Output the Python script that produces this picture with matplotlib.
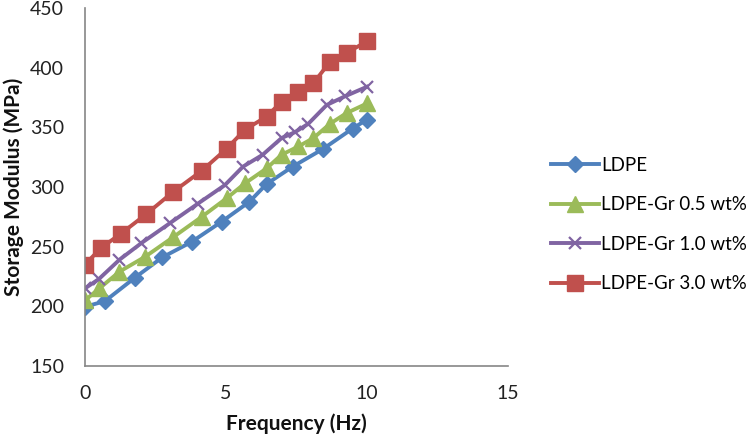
import matplotlib
matplotlib.use("Agg")
import matplotlib.pyplot as plt

plt.rcParams['font.family'] = ['Lato', 'DejaVu Sans']

series_names = ["LDPE", "LDPE-Gr 0.5 wt%", "LDPE-Gr 1.0 wt%", "LDPE-Gr 3.0 wt%"]

x_ldpe = [0.0, 0.71, 1.77, 2.74, 3.78, 4.85, 5.83, 6.44, 7.36, 8.45, 9.49, 10.0]
y_ldpe = [199.6, 204.4, 224, 241, 254, 271, 287.6, 302.5, 317, 332, 349, 356.5]

x_gr05 = [0.0, 0.51, 1.22, 2.13, 3.13, 4.14, 5.02, 5.67, 6.44, 6.97, 7.57, 8.1, 8.69, 9.28, 10.0]
y_gr05 = [205, 215, 229, 241.5, 258, 275, 290.5, 303, 315.6, 327, 334, 341, 353, 362, 370]

x_gr10 = [0.0, 0.5, 1.22, 2.0, 3.0, 4.0, 4.96, 5.6, 6.3, 6.97, 7.45, 7.92, 8.57, 9.22, 10.0]
y_gr10 = [215, 223, 239, 253, 269.5, 286, 301.6, 317, 327, 341, 346, 353, 368.7, 376, 384]

x_gr30 = [0.0, 0.57, 1.28, 2.16, 3.13, 4.14, 5.02, 5.67, 6.44, 6.97, 7.57, 8.1, 8.69, 9.28, 10.0]
y_gr30 = [235, 249, 261, 277, 296, 313.6, 332, 348, 359, 371.5, 380, 387, 405, 412.5, 422]

x_ticks = [0, 5, 10, 15]
y_ticks = [150, 200, 250, 300, 350, 400, 450]

fig = plt.figure(figsize=(7.54, 4.4), dpi=100)
ax = fig.add_axes([0.1127, 0.1682, 0.5610, 0.8136])

ax.plot(x_ldpe, y_ldpe, color='#4F81BD', lw=2.8, marker='D', ms=8.5, label=series_names[0])
ax.plot(x_gr05, y_gr05, color='#9BBB59', lw=2.8, marker='^', ms=11.5, label=series_names[1])
ax.plot(x_gr10, y_gr10, color='#8064A2', lw=2.8, marker='x', ms=9, mew=1.6, label=series_names[2])
ax.plot(x_gr30, y_gr30, color='#C0504D', lw=2.8, marker='s', ms=12, label=series_names[3])

ax.set_xlim(0, 15)
ax.set_ylim(150, 450)
ax.set_xticks(x_ticks)
ax.set_yticks(y_ticks)
ax.tick_params(length=0, labelsize=14, colors='#222222')
ax.tick_params(axis='y', pad=15)
ax.tick_params(axis='x', pad=14)
for s in ['top', 'right']:
    ax.spines[s].set_visible(False)
for s in ['left', 'bottom']:
    ax.spines[s].set_color('#868686')
    ax.spines[s].set_linewidth(1.2)

ax.set_xlabel("Frequency (Hz)", fontsize=15, fontweight='bold', labelpad=8, color='#111111')
ax.set_ylabel("Storage Modulus (MPa)", fontsize=15, fontweight='bold', labelpad=4, color='#111111')

ax.legend(loc='center left', bbox_to_anchor=(1.07, 0.395), frameon=False,
          fontsize=13.5, handlelength=2.6, labelspacing=1.2, handletextpad=0.1,
          borderpad=0.2)

fig.savefig("out.png", dpi=100)
